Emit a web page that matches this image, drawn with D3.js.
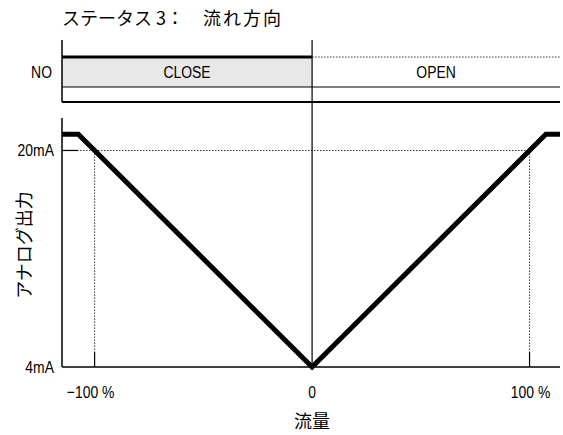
<!DOCTYPE html>
<html>
<head>
<meta charset="utf-8">
<script src="https://cdn.jsdelivr.net/npm/d3@7"></script>
<style>
  body { margin: 0; background: #fff; }
  .lat { font-family: "Liberation Sans", Arial, sans-serif; }
  .jp { font-family: "Noto Sans CJK JP", sans-serif; }
</style>
</head>
<body>
<div id="chart"></div>
<script>
// chart data
var title_head = 'ステータス 3：';
var title_tail = '流れ方向';
var x_label = '流量';
var y_label = 'アナログ出力';
var flow_domain = [-115, 114];
var ma_domain = [4, 22.4];
var flow_ticks = [-100, 0, 100];
var flow_tick_labels = ['−100 %', '0', '100 %'];
var ma_ticks = [4, 20];
var ma_tick_labels = ['4mA', '20mA'];
// output curve (flow %, mA)
var curve_flow = [-115, -107.5, 0, 107.5, 114];
var curve_ma = [21.2, 21.2, 4, 21.2, 21.2];
// status bar
var status_label = 'NO';
var states = ['CLOSE', 'OPEN'];
var state_from = [-115, 0];
var state_to = [0, 114];
var state_on = [true, false];

const svg_width = 563, svg_height = 435;
const left = 62, right = 560;
const plot_top = 118, plot_bottom = 367;
const bar_top = 40, bar_on = 57, bar_mid = 87, bar_bottom = 102;
const narrow = 0.82;

var svg = d3.select('#chart').append('svg')
  .attr('width', svg_width)
  .attr('height', svg_height);

var x = d3.scaleLinear().domain(flow_domain).range([left, right]);
var y = d3.scaleLinear().domain(ma_domain).range([plot_bottom, plot_top]);

// condensed latin label
function narrow_text(tx, ty, anchor, txt) {
  return svg.append('text')
    .attr('class', 'lat')
    .attr('transform', `translate(${tx},${ty}) scale(${narrow},1)`)
    .attr('text-anchor', anchor)
    .attr('font-size', 17)
    .text(txt);
}

// title
var title = svg.append('text')
  .attr('class', 'jp')
  .attr('y', 25)
  .attr('font-size', 18);
title.append('tspan').attr('x', left).text(title_head);
title.append('tspan').attr('x', 203).attr('letter-spacing', 2).text(title_tail);

///////////// status bar //////////////
states.forEach(function(s, i){
  if (state_on[i]) {
    svg.append('rect')
      .attr('x', x(state_from[i]))
      .attr('y', bar_on)
      .attr('width', x(state_to[i]) - x(state_from[i]))
      .attr('height', bar_mid - bar_on)
      .attr('fill', '#e8e8e8');
    svg.append('line')
      .attr('x1', x(state_from[i])).attr('x2', x(state_to[i]))
      .attr('y1', bar_on).attr('y2', bar_on)
      .attr('stroke', '#000').attr('stroke-width', 3);
  } else {
    svg.append('line')
      .attr('x1', x(state_from[i])).attr('x2', x(state_to[i]))
      .attr('y1', bar_on).attr('y2', bar_on)
      .attr('stroke', '#000').attr('stroke-width', 0.8)
      .attr('stroke-dasharray', '1.5,1.5');
  }
  narrow_text((x(state_from[i]) + x(state_to[i])) / 2, 78, 'middle', s);
});

svg.append('line')
  .attr('x1', left).attr('x2', right)
  .attr('y1', bar_mid).attr('y2', bar_mid)
  .attr('stroke', '#000').attr('stroke-width', 1.2);
svg.append('line')
  .attr('x1', left).attr('x2', right)
  .attr('y1', bar_bottom).attr('y2', bar_bottom)
  .attr('stroke', '#000').attr('stroke-width', 2);
svg.append('line')
  .attr('x1', left).attr('x2', left)
  .attr('y1', bar_top).attr('y2', bar_bottom)
  .attr('stroke', '#000').attr('stroke-width', 1.5);
narrow_text(52, 78, 'end', status_label);

///////////// output plot //////////////
// guide lines to 20mA / ±100%
var guide = svg.append('g')
  .attr('stroke', '#000').attr('stroke-width', 0.8)
  .attr('stroke-dasharray', '1.5,1.5');
guide.append('line')
  .attr('x1', left).attr('x2', x(flow_ticks[2]))
  .attr('y1', y(ma_ticks[1])).attr('y2', y(ma_ticks[1]));
[flow_ticks[0], flow_ticks[2]].forEach(function(f){
  guide.append('line')
    .attr('x1', x(f)).attr('x2', x(f))
    .attr('y1', y(ma_ticks[1])).attr('y2', plot_bottom - 15);
});

// axes
svg.append('line')
  .attr('x1', left).attr('x2', left)
  .attr('y1', plot_top).attr('y2', plot_bottom)
  .attr('stroke', '#000').attr('stroke-width', 1.5);
svg.append('line')
  .attr('x1', left).attr('x2', right)
  .attr('y1', plot_bottom).attr('y2', plot_bottom)
  .attr('stroke', '#000').attr('stroke-width', 1.5);
// center line through both panels
svg.append('line')
  .attr('x1', x(0)).attr('x2', x(0))
  .attr('y1', bar_top).attr('y2', plot_bottom)
  .attr('stroke', '#000').attr('stroke-width', 1.2);

// x ticks
flow_ticks.forEach(function(f, i){
  if (f !== 0) {
    svg.append('line')
      .attr('x1', x(f)).attr('x2', x(f))
      .attr('y1', plot_bottom - 15).attr('y2', plot_bottom)
      .attr('stroke', '#000').attr('stroke-width', 1.2);
  }
  narrow_text(x(f) + (f < 0 ? -4 : (f > 0 ? 1 : 0)), 398, 'middle', flow_tick_labels[i]);
});

// y ticks
ma_ticks.forEach(function(m, i){
  if (m !== ma_domain[0]) {
    svg.append('line')
      .attr('x1', left).attr('x2', left + 16)
      .attr('y1', y(m)).attr('y2', y(m))
      .attr('stroke', '#000').attr('stroke-width', 1.2);
  }
  narrow_text(54, y(m) + 6, 'end', ma_tick_labels[i]);
});

// output curve
var line = d3.line()
  .x(function(d){ return x(d[0]); })
  .y(function(d){ return y(d[1]); });
svg.append('path')
  .datum(d3.zip(curve_flow, curve_ma))
  .attr('d', line)
  .attr('fill', 'none')
  .attr('stroke', '#000')
  .attr('stroke-width', 5)
  .attr('stroke-linejoin', 'miter');

// axis titles
svg.append('text')
  .attr('class', 'jp')
  .attr('x', x(0))
  .attr('y', 428)
  .attr('text-anchor', 'middle')
  .attr('font-size', 18)
  .text(x_label);
svg.append('text')
  .attr('class', 'jp')
  .attr('transform', 'translate(23,245) rotate(-90)')
  .attr('text-anchor', 'middle')
  .attr('dominant-baseline', 'central')
  .attr('font-size', 18)
  .text(y_label);
</script>
</body>
</html>
